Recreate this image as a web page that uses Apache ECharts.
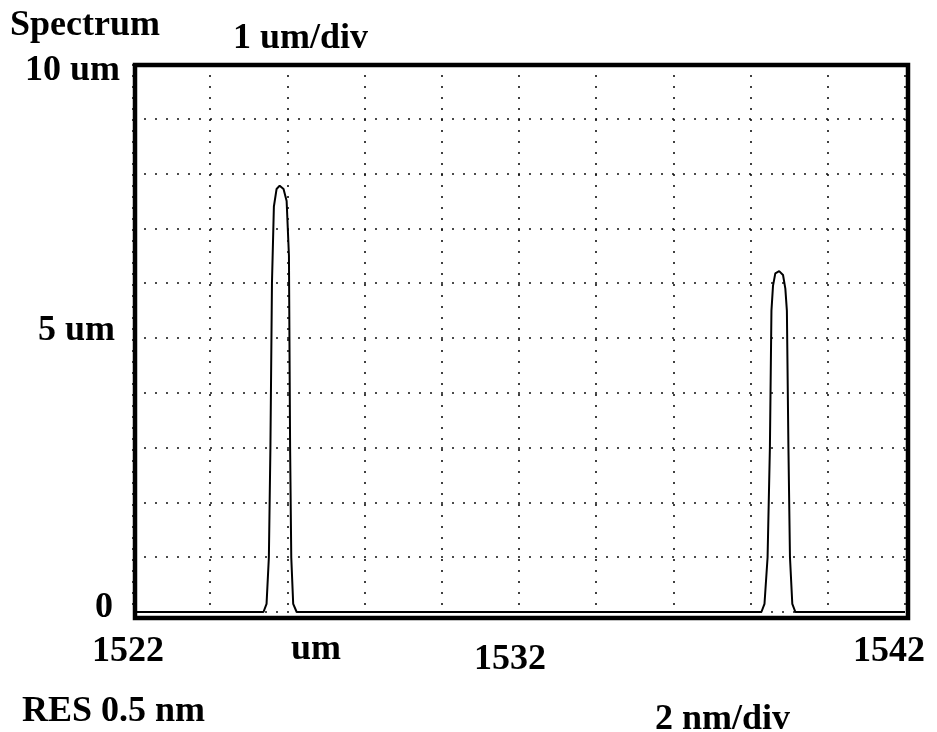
<!DOCTYPE html>
<html>
<head>
<meta charset="utf-8">
<script src="https://cdn.jsdelivr.net/npm/echarts@6/dist/echarts.min.js"></script>
<style>
html,body{margin:0;padding:0;background:#fff;}
#chart{width:937px;height:732px;}
</style>
</head>
<body>
<div id="chart"></div>
<script>
// Wavelength (nm) and signal (um) samples
const wavelengths = [1522, 1525.38, 1525.46, 1525.52, 1525.56, 1525.60, 1525.65, 1525.72, 1525.80, 1525.90, 1525.98, 1526.04, 1526.07, 1526.10, 1526.15, 1526.24,
  1538.28, 1538.36, 1538.44, 1538.50, 1538.54, 1538.58, 1538.64, 1538.74, 1538.84, 1538.90, 1538.94, 1538.98, 1539.02, 1539.08, 1539.16, 1542];
const signal = [0, 0, 0.15, 1.0, 3.0, 6.0, 7.4, 7.72, 7.78, 7.72, 7.5, 6.5, 3.0, 1.0, 0.15, 0,
  0, 0.15, 1.0, 3.0, 5.5, 5.95, 6.18, 6.22, 6.15, 5.9, 5.5, 3.0, 1.0, 0.15, 0, 0];

const xTickLabels = {1522: '1522', 1532: '1532', 1542: '1542'};
const yTickLabels = {0: '0', 5: '5 um', 10: '10 um'};
const titleText = 'Spectrum';
const yScaleText = '1 um/div';
const xUnitText = 'um';
const resText = 'RES 0.5 nm';
const xScaleText = '2 nm/div';

const FONT = 'Liberation Serif';
const chart = echarts.init(document.getElementById('chart'), null, {renderer: 'canvas'});

const seriesData = wavelengths.map((w, i) => [w, signal[i]]);
const gridDotted = {show: true, lineStyle: {color: '#111', width: 1.6, type: [2, 9]}};
const labelBase = {fontFamily: FONT, fontWeight: 'bold', fontSize: 36, color: '#000'};

const option = {
  animation: false,
  backgroundColor: '#fff',
  grid: {left: 133, right: 32, top: 64, bottom: 120, containLabel: false},
  xAxis: {
    type: 'value', min: 1522, max: 1542, interval: 2,
    axisLine: {show: false}, axisTick: {show: false},
    splitLine: gridDotted,
    axisLabel: {
      margin: 22,
      formatter: v => {
        const t = xTickLabels[v];
        if (!t) return '';
        if (v === 1522) return '{a|' + t + '}';
        if (v === 1532) return '{b|' + t + '}';
        return '{c|' + t + '}';
      },
      rich: {
        a: Object.assign({}, labelBase, {padding: [0, 10, 0, 0]}),
        b: Object.assign({}, labelBase, {padding: [8, 18, 0, 0]}),
        c: Object.assign({}, labelBase, {padding: [0, 32, 0, 0]})
      }
    }
  },
  yAxis: {
    type: 'value', min: 0, max: 10, interval: 1,
    axisLine: {show: false}, axisTick: {show: false},
    splitLine: gridDotted,
    axisLabel: {
      margin: 13,
      formatter: v => {
        const t = yTickLabels[v];
        if (!t) return '';
        if (v === 10) return '{t|' + t + '}';
        if (v === 5) return '{m|' + t + '}';
        return '{z|' + t + '}';
      },
      rich: {
        t: Object.assign({}, labelBase, {padding: [14, 0, 0, 0]}),
        m: Object.assign({}, labelBase, {padding: [0, 5, 14, 0]}),
        z: Object.assign({}, labelBase, {padding: [0, 7, 8, 0]})
      }
    }
  },
  series: [{
    type: 'line',
    data: seriesData,
    showSymbol: false,
    smooth: false,
    lineStyle: {color: '#000', width: 2},
    z: 5
  }],
  graphic: [
    {type: 'rect', shape: {x: 135, y: 65, width: 773, height: 553}, style: {fill: 'none', stroke: '#000', lineWidth: 4.5}, z: 10},
    {type: 'text', x: 10, y: 26, style: Object.assign({text: titleText, textAlign: 'left', textVerticalAlign: 'middle'}, {font: 'bold 36px "Liberation Serif"', fill: '#000'})},
    {type: 'text', x: 233, y: 39, style: {text: yScaleText, textAlign: 'left', textVerticalAlign: 'middle', font: 'bold 36px "Liberation Serif"', fill: '#000'}},
    {type: 'text', x: 316, y: 650, style: {text: xUnitText, textAlign: 'center', textVerticalAlign: 'middle', font: 'bold 36px "Liberation Serif"', fill: '#000'}},
    {type: 'text', x: 22, y: 712, style: {text: resText, textAlign: 'left', textVerticalAlign: 'middle', font: 'bold 36px "Liberation Serif"', fill: '#000'}},
    {type: 'text', x: 655, y: 720, style: {text: xScaleText, textAlign: 'left', textVerticalAlign: 'middle', font: 'bold 36px "Liberation Serif"', fill: '#000'}}
  ]
};
chart.setOption(option);
</script>
</body>
</html>
